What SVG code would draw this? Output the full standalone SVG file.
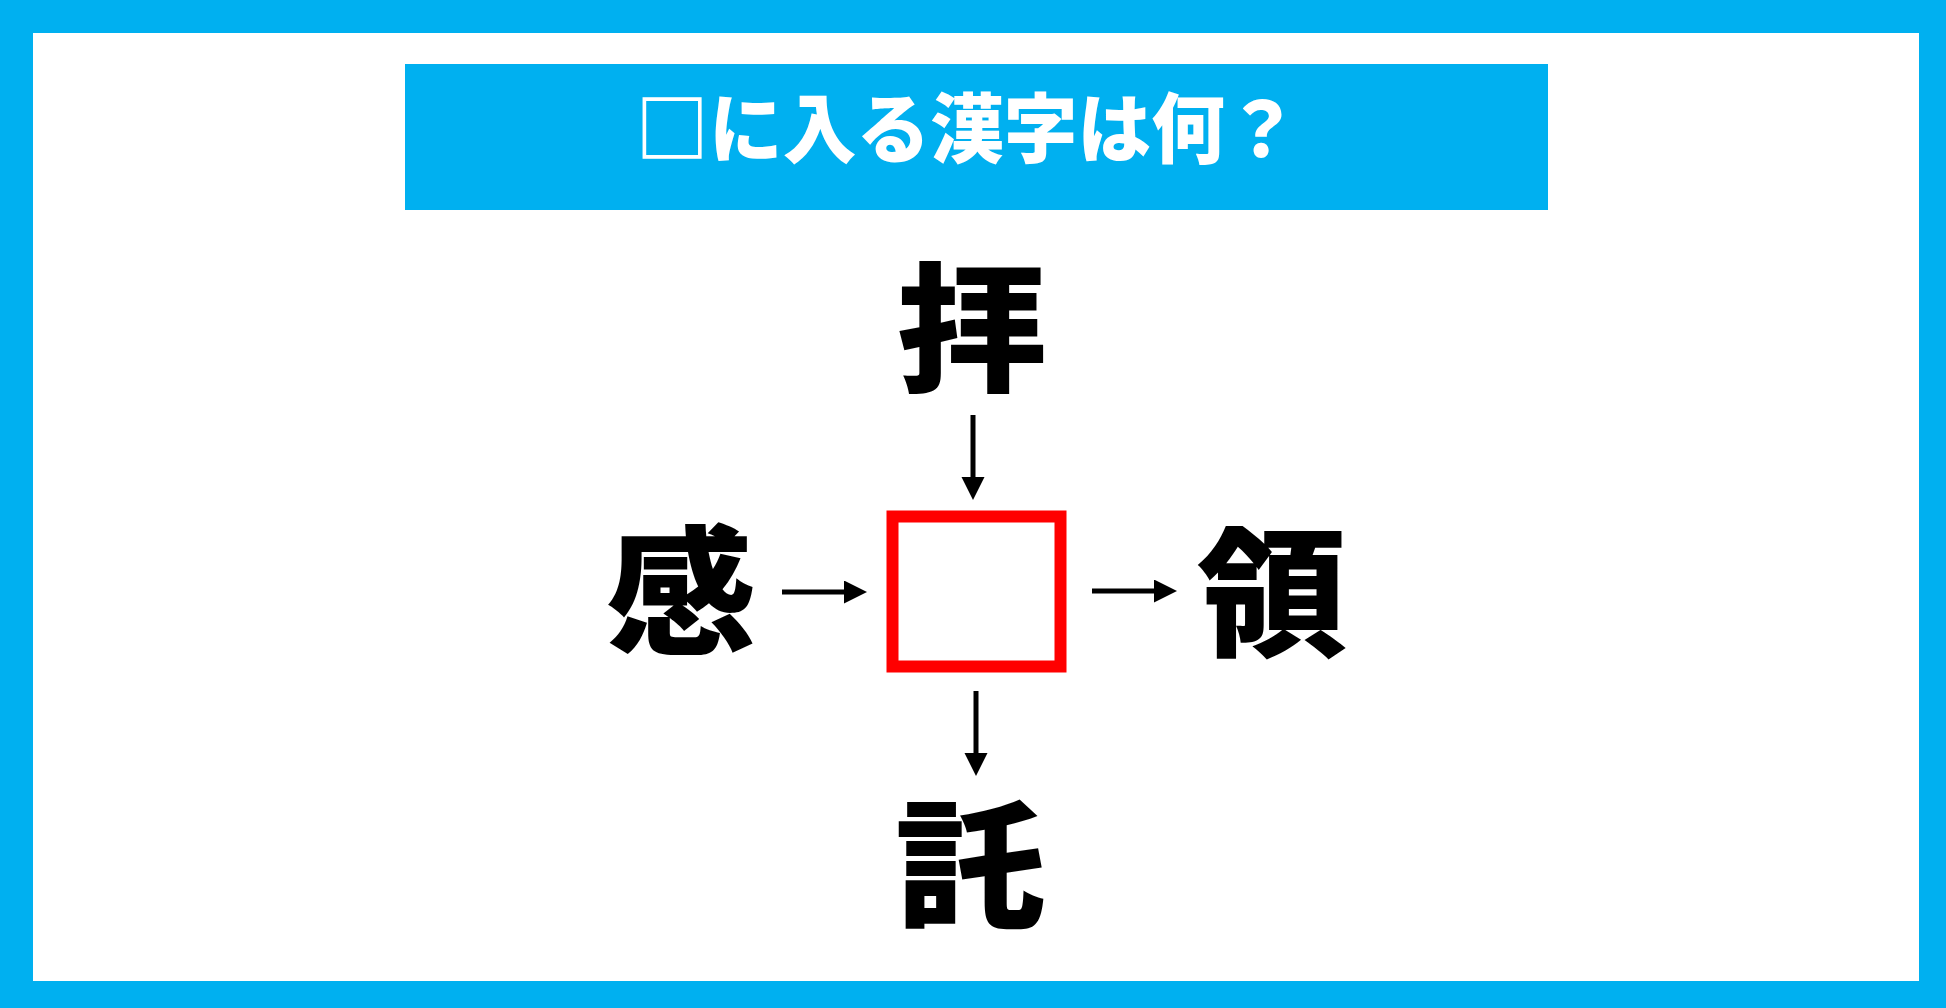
<svg xmlns="http://www.w3.org/2000/svg" width="1946" height="1008" viewBox="0 0 1946 1008">
<defs>
<style>
.k{font-family:"Noto Sans CJK JP","Noto Sans CJK SC",sans-serif;font-weight:900;font-size:139px;fill:#000;text-anchor:middle}
.t{font-family:"Noto Sans CJK JP","Noto Sans CJK SC",sans-serif;font-weight:900;font-size:76px;fill:#fff;text-anchor:middle}
.c{stroke:#000;stroke-width:5;fill:none;marker-end:url(#ah)}
</style>
<marker id="ah" markerUnits="userSpaceOnUse" markerWidth="24" markerHeight="24" refX="0" refY="11.5" orient="auto" viewBox="0 0 24 24">
<path d="M0,0 L23,11.5 L0,23 Z" fill="#000"/>
</marker>
</defs>
<rect x="0" y="0" width="1946" height="1008" fill="#00B0F0"/>
<rect x="33" y="33" width="1886" height="948" fill="#fff"/>
<g id="title">
<rect x="405" y="64" width="1143" height="146" fill="#00B0F0"/>
<text class="t" transform="translate(967,157) scale(0.97,1)">□に入る漢字は何？</text>
</g>
<g id="center">
<rect x="892.5" y="516.5" width="168" height="150" fill="#fff" stroke="#FF0000" stroke-width="12"/>
</g>
<g id="n-top"><text class="k" transform="translate(972,380) scale(1.08,1)">拝</text></g>
<g id="n-left"><text class="k" transform="translate(681,642.5) scale(1.08,1)">感</text></g>
<g id="n-right"><text class="k" transform="translate(1272,644.5) scale(1.08,1)">領</text></g>
<g id="n-bottom"><text class="k" transform="translate(970,917) scale(1.08,1)">託</text></g>
<g id="connectors">
<line class="c" x1="973" y1="415" x2="973" y2="477"/>
<line class="c" x1="976" y1="691" x2="976" y2="753"/>
<line class="c" x1="782" y1="592" x2="844" y2="592"/>
<line class="c" x1="1092" y1="591" x2="1154" y2="591"/>
</g>
</svg>
